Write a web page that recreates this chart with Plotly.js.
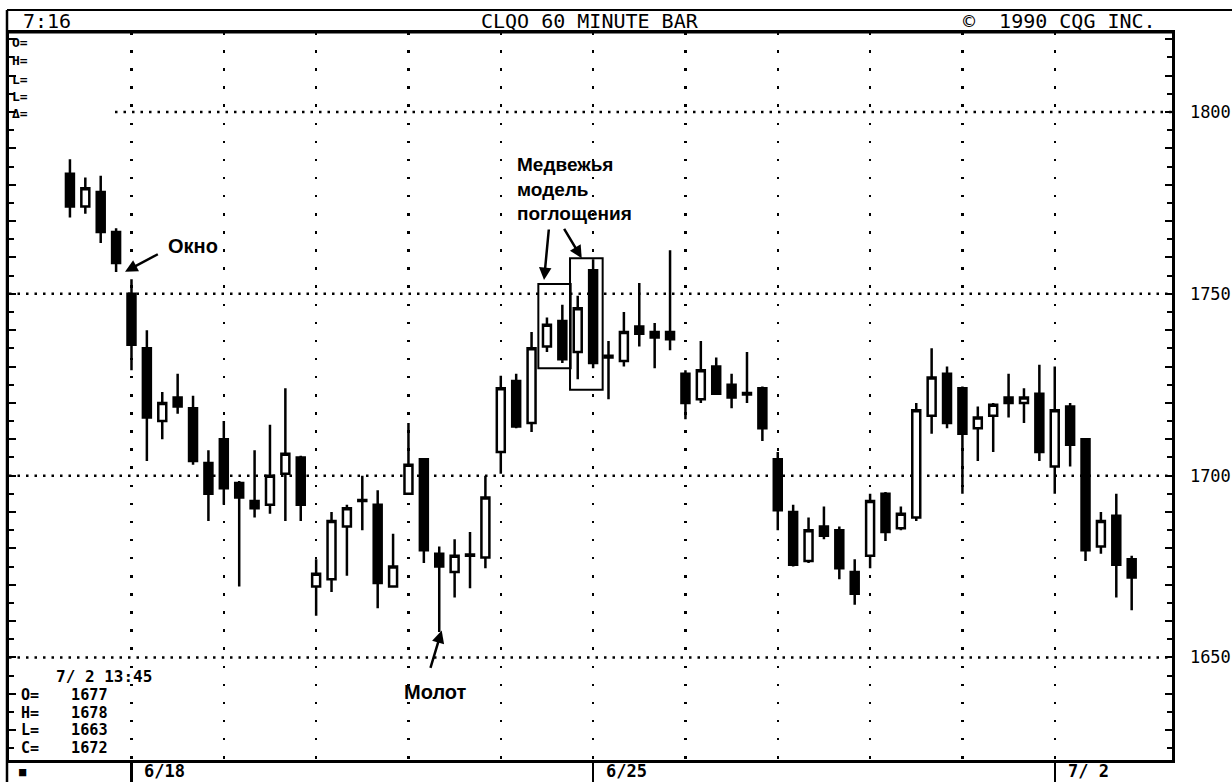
<!DOCTYPE html>
<html><head><meta charset="utf-8">
<script src="https://cdn.plot.ly/plotly-3.0.1.min.js"></script>
<style>html,body{margin:0;padding:0;background:#fff;}#chart{width:1232px;height:782px;}</style>
</head><body><div id="chart"></div>
<script>
// ---- data: hourly bars, CLQ0 crude oil, 60-minute ----
const openP  = [1783,1774,1778,1767, 1750,1735,1715,1721.5,1718.5,1703.5, 1710,1698,1693,1692,1700.5,1705,
                1669.5,1671.5,1686,1693.3,1692,1669.5, 1695,1704.5,1678.5,1673.5,1678,1677.5,
                1706.5,1726,1714.5,1735.5,1742.5,1734, 1756.5,1732.5,1731.5,1741,1739.5,1739.5,
                1728,1721,1730,1725,1722.7,1724, 1704.5,1690,1676.5,1686,1685,1673.5,
                1678,1695,1685.5,1688.5,1716.5,1728, 1724,1713,1716.5,1721.5,1720,1722.5,
                1702.5,1719,1710,1680.5,1689,1677];
const highP  = [1787,1782,1782.5,1768, 1754,1740,1723,1728,1722,1707, 1715,1698.5,1707,1714,1724,1705.5,
                1677,1690,1692,1700,1696,1684, 1714.5,1704.5,1680.5,1682.5,1684.5,1700,
                1727.5,1728,1739.5,1743.5,1747,1749.5, 1759.5,1737,1745,1753,1742,1762,
                1729,1737,1732.5,1728,1734,1724.5, 1706.5,1692,1688.5,1691.5,1686,1677,
                1695,1695.5,1691.5,1720,1735,1730, 1724.5,1719,1720,1728,1724,1730.5,
                1730,1720,1710,1690,1695,1678];
const lowP   = [1771,1772,1764,1756, 1729,1704,1710,1717,1703,1687.5, 1692,1669.5,1688.5,1689.5,1687.5,1687.5,
                1661.5,1668,1672.5,1685,1663.5,1669.5, 1695,1676,1657,1666.5,1669,1674.5,
                1700.5,1713,1712,1734,1731,1726.5, 1729.5,1721,1730,1735.5,1729.5,1734.5,
                1715.5,1720,1722.5,1718.5,1720,1709.5, 1685,1675,1676,1682.5,1671.5,1664.5,
                1674.5,1682,1685,1687.5,1711.5,1713, 1695,1704,1706.5,1716,1714.5,1704,
                1695,1702.5,1676.5,1678.5,1666.5,1663];
const closeP = [1774,1779,1767,1758.5, 1736,1716,1720,1719,1704,1695, 1696.5,1694,1691,1700,1706,1692,
                1673,1687.5,1691,1693,1670.5,1675, 1703,1679.5,1675,1678,1678.3,1694,
                1724,1713.5,1735,1741.5,1732,1746, 1731,1733,1739.5,1739,1738,1737.5,
                1720,1729,1722.5,1721.5,1722.3,1713, 1690.5,1675.5,1685,1683.5,1674.5,1667.5,
                1693,1684.5,1689.5,1718,1727,1714.5, 1711.5,1716,1719.5,1720,1721.5,1706.5,
                1718,1708.5,1679.5,1687.5,1675.5,1672];
const firstBarIndex = -4;                 // four bars of 6/15 before 6/18
const dateTickIdx = [0, 30, 60];
const dateLabels  = ['6/18', '6/25', '7/\u00a02'];
const priceLevels = [1650, 1700, 1750, 1800];
const lastBarStamp = '7/\u00a02 13:45';
const headerLeft = '7:16', headerMid = 'CLQO 60 MINUTE BAR', headerRight = '\u00a9\u00a0\u00a01990 CQG INC.';
const topLabels = ['O=', 'H=', 'L=', 'L=', '\u0394='];

// ---- derived ----
const xIdx = openP.map((_, i) => i + firstBarIndex);
const last = openP.length - 1;
const gridIdx = []; for (let d = 0; d <= 60; d += 6) gridIdx.push(d);
const tickVals = [], tickText = [], minorVals = [];
for (let v = 1630; v <= 1820; v += 10) { tickVals.push(v); tickText.push(v % 50 === 0 ? String(v) : ''); }
for (let v = 1625; v <= 1820; v += 10) minorVals.push(v);

const X0 = -7.96, X1 = 67.62, Y0 = 1621.8, Y1 = 1822;
const W = 1232, H = 782, mL = 9, mR = 60, mT = 32, mB = 22;
const pw = W - mL - mR, ph = H - mT - mB;
const px = x => (x - mL) / pw;            // page pixel -> paper x
const py = y => (H - mB - y) / ph;        // page pixel -> paper y

const mono = 'DejaVu Sans Mono, monospace';
const sans = 'Liberation Sans, Arial, sans-serif';

const trace = {
  type: 'candlestick', x: xIdx, open: openP, high: highP, low: lowP, close: closeP,
  increasing: {line: {color: '#000', width: 2.5}, fillcolor: '#fff'},
  decreasing: {line: {color: '#000', width: 2.5}, fillcolor: '#000'},
  whiskerwidth: 0, hoverinfo: 'skip', showlegend: false
};

const dotH = '2.5px,6px';
const shapes = [];
priceLevels.forEach(v => shapes.push({type: 'line', xref: 'paper', yref: 'y',
  x0: v === 1800 ? px(115) : 0, x1: 1, y0: v, y1: v, layer: 'below',
  line: {color: '#000', width: 2.5, dash: dotH}}));
// header frame
shapes.push({type: 'line', xref: 'paper', yref: 'paper', x0: px(7), x1: px(1232), y0: py(10), y1: py(10), line: {color: '#000', width: 2}});
shapes.push({type: 'line', xref: 'paper', yref: 'paper', x0: px(7), x1: px(7), y0: py(10), y1: py(782), line: {color: '#000', width: 2.5}});
shapes.push({type: 'line', xref: 'paper', yref: 'paper', x0: px(7), x1: 1, y0: 1, y1: 1, line: {color: '#000', width: 3}});
// boxes around the bearish engulfing pattern
shapes.push({type: 'rect', xref: 'x', yref: 'y', x0: 26.44, x1: 28.54, y0: 1729.5, y1: 1752.7, line: {color: '#000', width: 2}});
shapes.push({type: 'rect', xref: 'x', yref: 'y', x0: 28.50, x1: 30.62, y0: 1723.6, y1: 1759.8, line: {color: '#000', width: 2}});

const ann = [];
const T = (text, x, y, opt) => ann.push(Object.assign({text, x, y, xref: 'paper', yref: 'paper', showarrow: false,
  xanchor: 'left', yanchor: 'middle', borderpad: 0, font: {family: mono, size: 15, color: '#000'}}, opt || {}));
T(headerLeft, px(22), py(21), {font: {family: mono, size: 20, color: '#000'}});
T(headerMid, px(590), py(21), {xanchor: 'center', font: {family: mono, size: 20, color: '#000'}});
T(headerRight, px(1157), py(21), {xanchor: 'right', font: {family: mono, size: 20, color: '#000'}});
const topRows = [43, 61, 79, 96, 113];
topLabels.forEach((t, i) => T('<b>' + t + '</b>', px(11), py(topRows[i]), {font: {family: mono, size: 13, color: '#000'}}));
T('<b>' + lastBarStamp + '</b>', px(55), py(676), {font: {family: mono, size: 16, color: '#000'}});
const infoRows = [695, 712.7, 730.4, 748];
[['O=', openP[last]], ['H=', highP[last]], ['L=', lowP[last]], ['C=', closeP[last]]].forEach((r, i) => {
  T('<b>' + r[0] + '</b>', px(20), py(infoRows[i]));
  T('<b>' + r[1] + '</b>', px(70), py(infoRows[i]), {font: {family: mono, size: 15.2, color: '#000'}});
});
T('\u25A0', px(18), py(772), {font: {family: mono, size: 12, color: '#000'}});
dateTickIdx.forEach((d, i) => ann.push({text: '<b>' + dateLabels[i] + '</b>', x: d, y: py(771), xref: 'x', yref: 'paper',
  xanchor: 'left', yanchor: 'middle', xshift: 12, borderpad: 0, showarrow: false, font: {family: mono, size: 17, color: '#000'}}));

// Russian annotations
const L = (text, x, y, opt) => ann.push(Object.assign({text, x, y, xref: 'x', yref: 'y', showarrow: false,
  font: {family: sans, size: 20, color: '#000'}}, opt || {}));
L('<b>Окно</b>', 4.0, 1763.2, {xanchor: 'center', yanchor: 'middle'});
L('<b>Медвежья<br>модель<br>поглощения</b>', 24.95, 1778.8, {xanchor: 'left', yanchor: 'middle', align: 'left',
  font: {family: sans, size: 19, color: '#000'}});
L('<b>Молот</b>', 19.76, 1640.6, {xanchor: 'center', yanchor: 'middle'});
const A = (x, y, ax, ay) => ann.push({text: '', x, y, ax, ay, xref: 'x', yref: 'y', axref: 'x', ayref: 'y',
  showarrow: true, arrowhead: 2, arrowsize: 1, arrowwidth: 2.5, arrowcolor: '#000', standoff: 0, startstandoff: 0});
A(-0.42, 1756.1, 1.81, 1761.1);
A(26.81, 1753.8, 27.13, 1768.1);
A(29.26, 1759.8, 28.06, 1768.3);
A(20.16, 1657.4, 19.40, 1646.7);

const layout = {
  width: W, height: H, margin: {l: mL, r: mR, t: mT, b: mB},
  paper_bgcolor: '#fff', plot_bgcolor: '#fff', showlegend: false,
  boxgap: 0.3, boxgroupgap: 0.26,
  xaxis: {range: [X0, X1], type: 'linear', rangeslider: {visible: false}, showline: true, linewidth: 2.5, linecolor: '#000',
    mirror: true, ticks: 'outside', ticklen: 22, tickwidth: 2.5, tickcolor: '#000', tickmode: 'array', tickvals: dateTickIdx,
    showticklabels: false, showgrid: true, gridcolor: '#000', gridwidth: 2.5, griddash: '2.5px,15.6px', zeroline: false,
    minor: {tickmode: 'array', tickvals: gridIdx, ticks: '', showgrid: true, gridcolor: '#000', gridwidth: 2.5, griddash: '2.5px,15.6px'},
    fixedrange: true},
  yaxis: {range: [Y0, Y1], side: 'right', showline: true, linewidth: 2.5, linecolor: '#000', mirror: 'ticks',
    ticks: 'inside', ticklen: 7, tickwidth: 2, tickcolor: '#000', tickmode: 'array', tickvals: tickVals, ticktext: tickText,
    minor: {tickmode: 'array', tickvals: minorVals, ticks: 'inside', ticklen: 5, tickwidth: 2, tickcolor: '#000', showgrid: false},
    ticklabelstandoff: 12, showgrid: false, zeroline: false, fixedrange: true,
    tickfont: {family: mono, size: 17, color: '#000'}},
  shapes, annotations: ann
};
Plotly.newPlot('chart', [trace], layout, {staticPlot: true, displayModeBar: false});
</script></body></html>
